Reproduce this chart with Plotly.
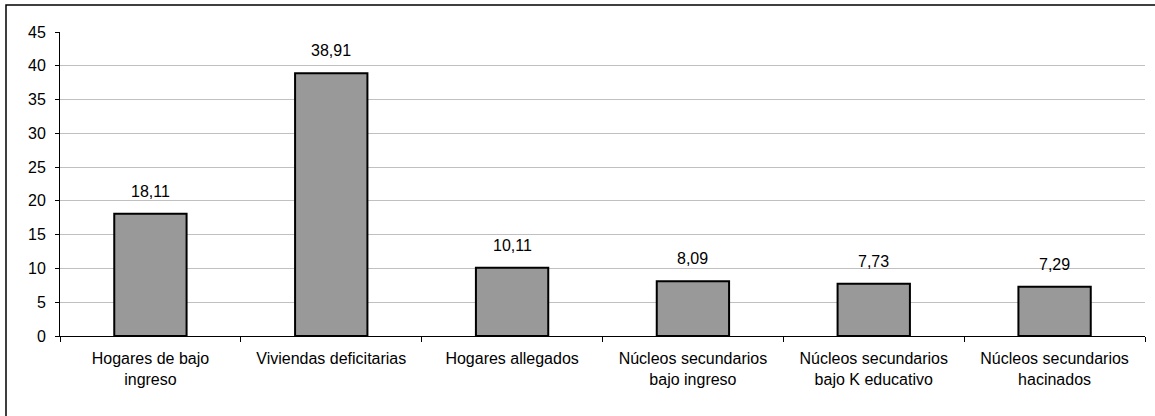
import plotly.graph_objects as go

categories = [
    "Hogares de bajo<br>ingreso",
    "Viviendas deficitarias",
    "Hogares allegados",
    "Núcleos secundarios<br>bajo ingreso",
    "Núcleos secundarios<br>bajo K educativo",
    "Núcleos secundarios<br>hacinados",
]
values = [18.11, 38.91, 10.11, 8.09, 7.73, 7.29]
y_ticks = [0, 5, 10, 15, 20, 25, 30, 35, 40, 45]

W, H = 1155, 416
L, R, T, B = 60, 10, 32, 80
pw, ph = W - L - R, H - T - B


def px_x(px):
    return (px - L) / pw


def px_y(py):
    return (H - B - py) / ph


fig = go.Figure(
    go.Bar(
        x=categories,
        y=values,
        width=0.4,
        marker=dict(color="#999999", line=dict(color="black", width=2)),
        hoverinfo="x+y",
    )
)

# value labels above each bar
for cat, v in zip(categories, values):
    fig.add_annotation(
        x=cat, y=v, text=f"{v:.2f}".replace(".", ","),
        showarrow=False, yanchor="bottom", yshift=12,
        font=dict(size=16, color="black"),
    )

# outer frame of the chart area (runs off the right and bottom edges)
fig.add_shape(
    type="rect", xref="paper", yref="paper",
    x0=px_x(6), x1=px_x(W + 5),
    y0=px_y(H + 5), y1=px_y(5),
    line=dict(color="black", width=1.5), layer="below",
)

fig.update_layout(
    width=W, height=H,
    margin=dict(l=L, r=R, t=T, b=B),
    paper_bgcolor="white", plot_bgcolor="white",
    separators=",.",
    font=dict(family="Liberation Sans, Arial, sans-serif", size=16, color="black"),
    showlegend=False,
    bargap=0.6,
)
fig.update_xaxes(
    showline=True, linecolor="black", linewidth=1,
    ticks="outside", ticklen=5, tickcolor="black", tickson="boundaries",
    tickfont=dict(size=16), showgrid=False, ticklabelstandoff=8,
)
fig.update_yaxes(
    range=[0, 45], tickvals=y_ticks,
    showline=True, linecolor="black", linewidth=1,
    ticks="outside", ticklen=4, tickcolor="black",
    showgrid=True, gridcolor="#c0c0c0", gridwidth=1,
    zeroline=False, tickfont=dict(size=16), ticklabelstandoff=6,
)

fig.write_html("out.html")
